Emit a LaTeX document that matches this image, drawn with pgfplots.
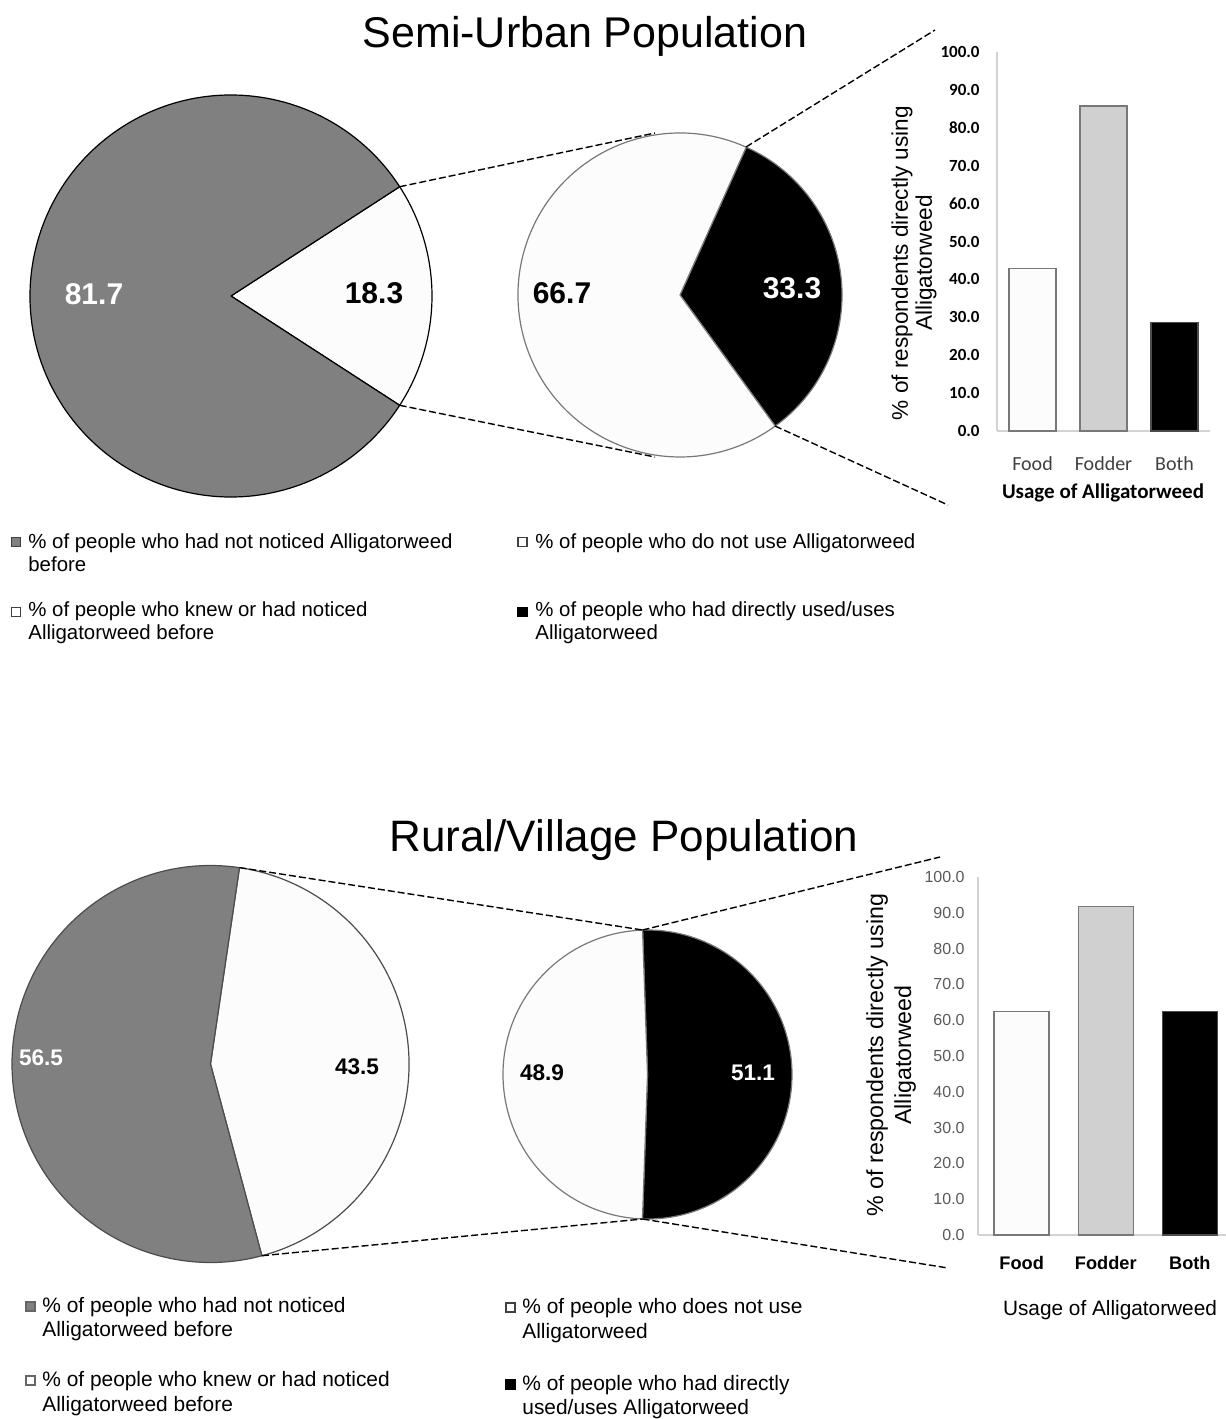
\documentclass[border=0pt]{standalone}
\usepackage{pgfplots}
\pgfplotsset{compat=1.18}
\usepackage{fontspec}
\setmainfont{Liberation Sans}
\newfontfamily\calibri{Carlito}
\definecolor{pgray}{RGB}{128,128,128}
\definecolor{fgray}{RGB}{208,208,208}
\definecolor{egray}{RGB}{120,120,120}
\definecolor{agray}{RGB}{210,210,210}
\definecolor{tgray}{RGB}{89,89,89}
\definecolor{offwhite}{RGB}{252,252,252}

% ---- data (percent) ----
\def\SUnotNoticed{81.7}
\def\SUnoticed{18.3}
\def\SUnotUse{66.7}
\def\SUuse{33.3}
\def\RVnotNoticed{56.5}
\def\RVnoticed{43.5}
\def\RVnotUse{48.9}
\def\RVuse{51.1}

% pie slice: #1 start angle, #2 value (%), #3 fill, #4 radius, #5 edge colour
\newcommand{\slice}[5]{%
  \filldraw[fill=#3, draw=#5, line width=0.6pt, line join=round] (axis cs:0,0) -- (axis cs:{cos(#1)},{sin(#1)})
    arc[start angle={#1}, end angle={#1+#2*3.6}, radius=#4] -- cycle;}

\pgfplotsset{pie/.style={hide axis, scale only axis, clip=false,
  xmin=-1,xmax=1,ymin=-1,ymax=1, anchor=center}}

\begin{document}
\begin{tikzpicture}[x=0.5pt,y=0.5pt]
\useasboundingbox (0,-1419) rectangle (1226,0);
\coordinate (P1) at (231,-296);
\coordinate (P2) at (680,-295);
\coordinate (B1) at (997,-431);
\coordinate (P3) at (210.5,-1064);
\coordinate (P4) at (647.5,-1074.5);
\coordinate (B2) at (978,-1235);

% ================= SEMI-URBAN =================
\node[anchor=base, font=\fontsize{21.5}{24}\selectfont] at (585,-47) {Semi-Urban Population};

% pie 1
\begin{axis}[pie, width=201pt, height=201pt, at={(P1)}]
  \slice{-\SUnoticed*1.8}{\SUnoticed}{offwhite}{100.5pt}{black}
  \slice{\SUnoticed*1.8}{\SUnotNoticed}{pgray}{100.5pt}{black}
\end{axis}
% pie 2
\begin{axis}[pie, width=162pt, height=162pt, at={(P2)}]
  \slice{-54}{\SUuse}{black}{81pt}{egray}
  \slice{-54+\SUuse*3.6}{\SUnotUse}{offwhite}{81pt}{egray}
\end{axis}

\begin{scope}[font=\bfseries\fontsize{15}{18}\selectfont]
\node[anchor=base, text=white] at (94,-304) {81.7};
\node[anchor=base] at (374,-303) {18.3};
\node[anchor=base] at (562,-303) {66.7};
\node[anchor=base, text=white] at (792,-298) {33.3};
\end{scope}

\begin{scope}[dash pattern=on 3.5pt off 1.5pt, line width=0.7pt]
\draw (399.7,-186.7) -- (655,-133);
\draw (399.7,-405.3) -- (655,-457);
\draw (746,-147) -- (935,-30);
\draw (775,-426) -- (948,-505);
\end{scope}

% bar chart 1
\begin{axis}[at={(B1)}, anchor=south west, scale only axis,
  width=106.5pt, height=189.5pt, xmin=-0.5, xmax=2.5, ymin=0, ymax=100,
  axis x line*=bottom, axis y line*=left,
  axis line style={draw=agray, line width=0.6pt, -},
  xtick={0,1,2}, xticklabels={Food,Fodder,Both},
  ytick={0,10,...,100}, major tick length=0pt,
  yticklabel style={font=\calibri\bfseries\fontsize{8.5}{10}\selectfont, inner sep=0pt, xshift=-8.5pt,
     /pgf/number format/.cd, fixed, fixed zerofill, precision=1, assume math mode=true},
  xticklabel style={font=\calibri\fontsize{10}{12}\selectfont, text=black!75, inner sep=0pt, yshift=-12.5pt}]
\addplot[ybar, bar shift=0pt, bar width=23.5pt, fill=offwhite, draw=egray, line width=0.75pt] coordinates {(0,42.9)};
\addplot[ybar, bar shift=0pt, bar width=23.5pt, fill=fgray, draw=egray, line width=0.75pt] coordinates {(1,85.7)};
\addplot[ybar, bar shift=0pt, bar width=23.5pt, fill=black, draw=black!70, line width=0.75pt] coordinates {(2,28.6)};
\end{axis}
\node[rotate=90, align=center, font=\fontsize{11.3}{12}\selectfont] at (914,-263) {\% of respondents directly using\\Alligatorweed};
\node[font=\calibri\bfseries\fontsize{10.5}{12}\selectfont] at (1103,-493) {Usage of Alligatorweed};

% legend 1
\begin{scope}[font=\fontsize{10.2}{12}\selectfont]
\draw[fill=pgray, draw=black!75, line width=0.6pt] (11.5,-537.5) rectangle (20.5,-546.5);
\node[anchor=base west, inner sep=0pt] at (28,-548) {\% of people who had not noticed Alligatorweed};
\node[anchor=base west, inner sep=0pt] at (28,-571) {before};
\draw[fill=white, draw=black!75, line width=0.6pt] (11.5,-607.5) rectangle (20.5,-616.5);
\node[anchor=base west, inner sep=0pt] at (28,-616) {\% of people who knew or had noticed};
\node[anchor=base west, inner sep=0pt] at (28,-639) {Alligatorweed before};
\draw[fill=white, draw=black!75, line width=0.6pt] (518,-537.5) rectangle (527,-546.5);
\node[anchor=base west, inner sep=0pt] at (535,-548) {\% of people who do not use Alligatorweed};
\draw[fill=black, draw=black, line width=0.6pt] (518,-607.5) rectangle (527,-616.5);
\node[anchor=base west, inner sep=0pt] at (535,-616) {\% of people who had directly used/uses};
\node[anchor=base west, inner sep=0pt] at (535,-639) {Alligatorweed};
\end{scope}

% ================= RURAL / VILLAGE =================
\node[anchor=base, font=\fontsize{22}{24}\selectfont] at (624,-851) {Rural/Village Population};

% pie 3
\begin{axis}[pie, width=198.5pt, height=198.5pt, at={(P3)}]
  \slice{-75}{\RVnoticed}{offwhite}{99.25pt}{black!70}
  \slice{-75+\RVnoticed*3.6}{\RVnotNoticed}{pgray}{99.25pt}{black!70}
\end{axis}
% pie 4
\begin{axis}[pie, width=144.5pt, height=144.5pt, at={(P4)}]
  \slice{-92}{\RVuse}{black}{72.25pt}{egray}
  \slice{-92+\RVuse*3.6}{\RVnotUse}{offwhite}{72.25pt}{egray}
\end{axis}

\begin{scope}[font=\bfseries\fontsize{11.3}{13}\selectfont]
\node[anchor=base, text=white] at (41,-1065) {56.5};
\node[anchor=base] at (357,-1074) {43.5};
\node[anchor=base] at (542,-1080) {48.9};
\node[anchor=base, text=white] at (753,-1080) {51.1};
\end{scope}

\begin{scope}[dash pattern=on 3.5pt off 1.5pt, line width=0.7pt]
\draw (239.5,-867.6) -- (642.5,-930);
\draw (262,-1255.7) -- (642.5,-1219);
\draw (642.5,-930) -- (940,-857);
\draw (642.5,-1219) -- (948,-1268);
\end{scope}

% bar chart 2
\begin{axis}[at={(B2)}, anchor=south west, scale only axis,
  width=124pt, height=179pt, xmin=-0.52, xmax=2.43, ymin=0, ymax=100,
  axis x line*=bottom, axis y line*=left,
  axis line style={draw=agray, line width=0.6pt, -},
  xtick={0,1,2}, xticklabels={Food,Fodder,Both},
  ytick={0,10,...,100}, major tick length=0pt,
  yticklabel style={font=\fontsize{8}{10}\selectfont, text=tgray, inner sep=0pt, xshift=-6.5pt,
     /pgf/number format/.cd, fixed, fixed zerofill, precision=1, assume math mode=true},
  xticklabel style={font=\bfseries\fontsize{9.1}{11}\selectfont, inner sep=0pt, yshift=-10.5pt}]
\addplot[ybar, bar shift=0pt, bar width=27.5pt, fill=offwhite, draw=egray, line width=0.75pt] coordinates {(0,62.5)};
\addplot[ybar, bar shift=0pt, bar width=27.5pt, fill=fgray, draw=egray, line width=0.75pt] coordinates {(1,91.7)};
\addplot[ybar, bar shift=0pt, bar width=27.5pt, fill=black, draw=black!70, line width=0.75pt] coordinates {(2,62.5)};
\end{axis}
\node[rotate=90, align=center, font=\fontsize{11.6}{14}\selectfont] at (891,-1055) {\% of respondents directly using\\Alligatorweed};
\node[font=\fontsize{10.4}{12}\selectfont] at (1110,-1310) {Usage of Alligatorweed};

% legend 2
\begin{scope}[font=\fontsize{10.45}{12}\selectfont]
\draw[fill=pgray, draw=black!60, line width=0.6pt] (26,-1302) rectangle (35,-1311);
\node[anchor=base west, inner sep=0pt] at (42,-1312) {\% of people who had not noticed};
\node[anchor=base west, inner sep=0pt] at (42,-1336) {Alligatorweed before};
\draw[fill=white, draw=black!60, line width=0.6pt] (26,-1376) rectangle (35,-1385);
\node[anchor=base west, inner sep=0pt] at (42,-1386) {\% of people who knew or had noticed};
\node[anchor=base west, inner sep=0pt] at (42,-1411) {Alligatorweed before};
\draw[fill=white, draw=black!75, line width=0.6pt] (506,-1303) rectangle (515,-1312);
\node[anchor=base west, inner sep=0pt] at (522,-1313) {\% of people who does not use};
\node[anchor=base west, inner sep=0pt] at (522,-1338) {Alligatorweed};
\draw[fill=black, draw=black, line width=0.6pt] (506,-1380) rectangle (515,-1389);
\node[anchor=base west, inner sep=0pt] at (522,-1390) {\% of people who had directly};
\node[anchor=base west, inner sep=0pt] at (522,-1414) {used/uses Alligatorweed};
\end{scope}

\end{tikzpicture}
\end{document}
